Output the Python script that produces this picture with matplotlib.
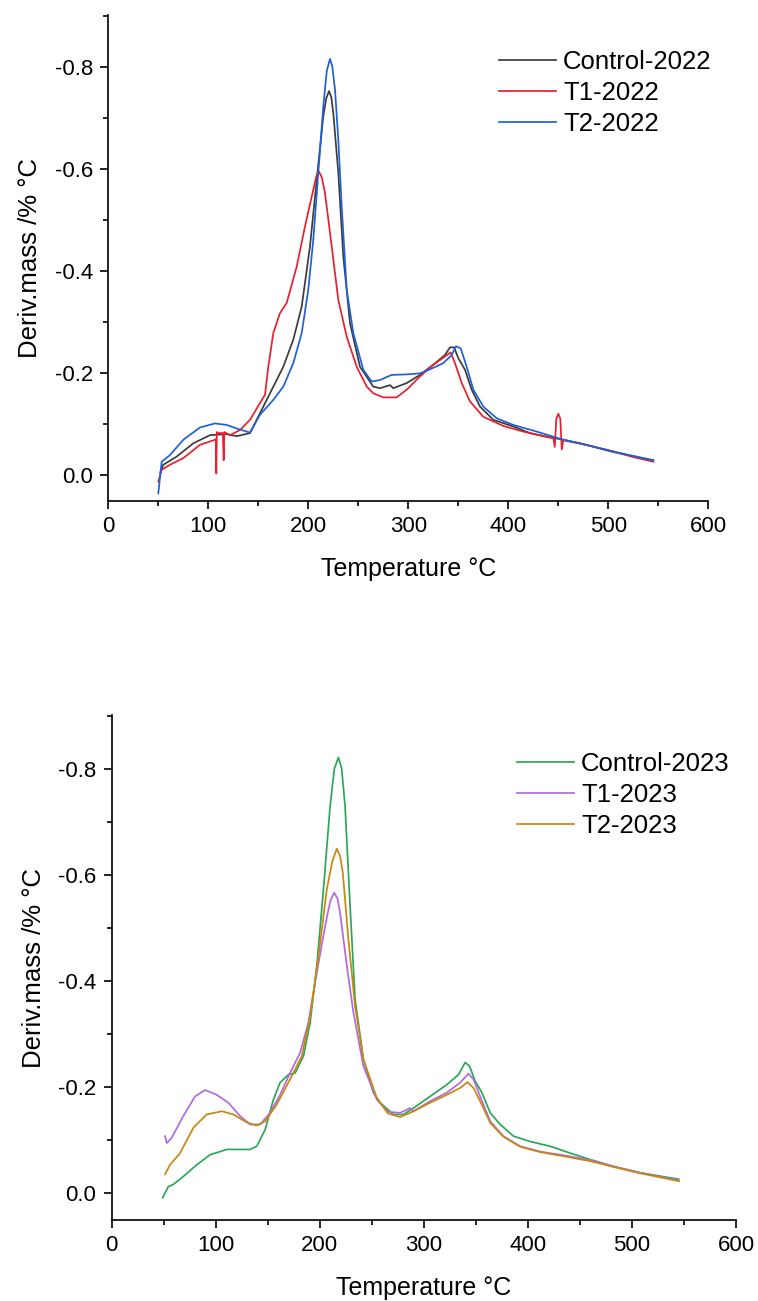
import matplotlib
matplotlib.use("Agg")
import matplotlib.pyplot as plt
from matplotlib.ticker import MultipleLocator

plt.rcParams['font.family'] = ['Liberation Sans', 'DejaVu Sans']
plt.rcParams['axes.unicode_minus'] = False

# ---------------- 2022 data ----------------
ctrl22_T = [52, 55, 68.4, 85, 101.7, 118.4, 128.4, 141.7, 151.7, 161.7, 175, 185, 193.4, 201.7, 208.4,
            215, 218, 220.7, 223, 225, 230, 235, 241.7, 251.7, 265, 271.7, 281.7, 285, 298.4, 311.7, 325,
            336.7, 341.7, 345.7, 350, 356.7, 363.4, 371.7, 385, 405, 421.7, 438.4, 455, 471.7, 505, 545]
ctrl22_v = [-0.005, -0.020, -0.036, -0.062, -0.078, -0.080, -0.076, -0.082, -0.121, -0.160, -0.212, -0.265,
            -0.330, -0.448, -0.578, -0.703, -0.738, -0.752, -0.740, -0.709, -0.592, -0.428, -0.297, -0.212,
            -0.173, -0.170, -0.176, -0.170, -0.180, -0.196, -0.216, -0.235, -0.250, -0.250, -0.229, -0.206,
            -0.167, -0.134, -0.108, -0.095, -0.082, -0.075, -0.069, -0.062, -0.045, -0.029]

t1_22_T = [50, 53.4, 61.7, 75, 91.7, 106.7, 107.5, 108, 108.5, 110, 114.5, 115.4, 116, 121.7, 131.7,
           141.7, 151.7, 156.7, 160, 165, 171.7, 178.4, 188.4, 196.7, 205, 208, 210.7, 213.5, 216.7, 223.4,
           230, 238.4, 248.4, 258.4, 265, 275, 288.4, 298.4, 311.7, 325, 336.7, 342.4, 346.7, 353.4, 361.7,
           375, 395, 415, 435, 445, 446.5, 448, 450, 452, 453.5, 455, 460, 480, 505, 525, 545]
t1_22_v = [0.013, -0.010, -0.020, -0.033, -0.059, -0.069, -0.070, -0.003, -0.084, -0.082, -0.082, -0.029,
           -0.084, -0.078, -0.088, -0.108, -0.141, -0.157, -0.212, -0.278, -0.317, -0.337, -0.408, -0.487,
           -0.559, -0.585, -0.594, -0.583, -0.552, -0.448, -0.343, -0.271, -0.212, -0.173, -0.160, -0.152,
           -0.152, -0.167, -0.193, -0.216, -0.232, -0.240, -0.219, -0.180, -0.144, -0.114, -0.096, -0.085,
           -0.076, -0.072, -0.055, -0.110, -0.120, -0.110, -0.050, -0.068, -0.066, -0.058, -0.046, -0.035,
           -0.026]

t2_22_T = [50, 53.4, 61.7, 75, 91.7, 106.7, 118.4, 130, 141.7, 151.7, 165, 175, 185, 193.4, 200, 205,
           210, 215, 218.5, 221.7, 224, 226.7, 230, 233.4, 238.4, 245, 255, 263.4, 271.7, 283.4, 298.4,
           311.7, 321.7, 335, 343.4, 347.7, 352.4, 358.4, 365, 375, 388.4, 405, 428.4, 455, 471.7, 505, 545]
t2_22_v = [0.036, -0.026, -0.039, -0.069, -0.093, -0.101, -0.098, -0.090, -0.083, -0.118, -0.147, -0.173,
           -0.219, -0.278, -0.363, -0.461, -0.592, -0.722, -0.792, -0.815, -0.800, -0.755, -0.657, -0.526,
           -0.363, -0.278, -0.206, -0.183, -0.186, -0.196, -0.197, -0.199, -0.207, -0.219, -0.235, -0.252,
           -0.248, -0.212, -0.167, -0.134, -0.111, -0.098, -0.085, -0.069, -0.062, -0.046, -0.028]

# ---------------- 2023 data ----------------
ctrl23_T = [49, 54.4, 59.2, 68.8, 81.7, 94.5, 110.6, 133, 139.4, 147.4, 155.4, 161.8, 169.8, 176.3,
            184.3, 190.7, 197.1, 203.5, 209.9, 214, 217.9, 221, 224.3, 229.1, 233.9, 241.9, 251.5, 258,
            270.8, 280.4, 290, 306, 322, 333.3, 339.7, 343.9, 349.3, 355.8, 363.8, 373.4, 386.2, 402.2,
            421.4, 440.7, 459.9, 482.3, 508, 544.8]
ctrl23_v = [0.009, -0.012, -0.016, -0.031, -0.053, -0.072, -0.082, -0.082, -0.088, -0.119, -0.176, -0.208,
            -0.223, -0.226, -0.258, -0.321, -0.428, -0.572, -0.729, -0.800, -0.821, -0.800, -0.729, -0.541,
            -0.365, -0.252, -0.189, -0.170, -0.148, -0.148, -0.160, -0.182, -0.204, -0.223, -0.246, -0.239,
            -0.211, -0.189, -0.151, -0.129, -0.107, -0.097, -0.088, -0.075, -0.063, -0.050, -0.038, -0.026]

t1_23_T = [51.3, 52.9, 57.7, 68.8, 80.1, 89.7, 101, 112.1, 123.4, 133, 142.6, 152.2, 161.8, 171.4, 181,
           189, 197.1, 205.1, 210, 213.8, 217, 219.5, 226, 232.3, 241.9, 254.8, 265.4, 277.2, 286.8, 290,
           306, 322, 334.9, 342.9, 347.7, 354.1, 363.8, 376.5, 392.6, 411.8, 437.5, 459.9, 482.3, 508,
           544.8]
t1_23_v = [-0.107, -0.094, -0.104, -0.145, -0.182, -0.194, -0.185, -0.170, -0.145, -0.129, -0.129, -0.151,
           -0.185, -0.226, -0.264, -0.321, -0.415, -0.503, -0.550, -0.566, -0.555, -0.528, -0.428, -0.340,
           -0.239, -0.176, -0.153, -0.151, -0.160, -0.154, -0.173, -0.189, -0.208, -0.225, -0.214, -0.182,
           -0.135, -0.107, -0.088, -0.078, -0.070, -0.062, -0.050, -0.038, -0.024]

t2_23_T = [51.3, 56, 65.7, 78.5, 91.3, 105.8, 116.9, 129.8, 139.4, 147.4, 158.7, 171.4, 182.7, 190.7,
           198.7, 206.7, 212, 216.3, 219.5, 222.1, 227.5, 233.9, 241.9, 254.8, 265.4, 277.2, 290, 306, 322,
           334.9, 341.9, 347.7, 354.1, 363.8, 376.5, 392.6, 411.8, 437.5, 459.9, 482.3, 508, 545.4]
t2_23_v = [-0.035, -0.053, -0.075, -0.123, -0.148, -0.154, -0.148, -0.133, -0.127, -0.135, -0.167, -0.214,
           -0.258, -0.333, -0.446, -0.572, -0.625, -0.649, -0.635, -0.604, -0.478, -0.352, -0.252, -0.179,
           -0.150, -0.143, -0.154, -0.170, -0.185, -0.198, -0.209, -0.198, -0.173, -0.132, -0.106, -0.087,
           -0.077, -0.068, -0.060, -0.049, -0.037, -0.022]

labels22 = ['Control-2022', 'T1-2022', 'T2-2022']
labels23 = ['Control-2023', 'T1-2023', 'T2-2023']
colors22 = ['#3c3c3c', '#e8202e', '#1f5fd8']
colors23 = ['#2ea65a', '#b06be2', '#c8880e']

W, H = 758, 1301
fig = plt.figure(figsize=(W / 100, H / 100), dpi=100)

ax1 = fig.add_axes([108.3 / W, 1 - 501 / H, 600 / W, 486 / H])
ax2 = fig.add_axes([111.7 / W, 1 - 1220 / H, 624.3 / W, 505 / H])

def style(ax):
    ax.set_xlim(0, 600)
    ax.set_ylim(0.051, -0.901)
    ax.xaxis.set_major_locator(MultipleLocator(100))
    ax.xaxis.set_minor_locator(MultipleLocator(50))
    ax.yaxis.set_minor_locator(MultipleLocator(0.1))
    ax.set_yticks([0.0, -0.2, -0.4, -0.6, -0.8])
    ax.set_yticklabels(['0.0', '-0.2', '-0.4', '-0.6', '-0.8'])
    for s in ['top', 'right']:
        ax.spines[s].set_visible(False)
    for s in ['left', 'bottom']:
        ax.spines[s].set_linewidth(1.2)
    ax.tick_params(which='major', direction='out', length=6, width=1.2, labelsize=16, pad=5)
    ax.tick_params(which='minor', direction='out', length=3.5, width=1.2)
    ax.set_xlabel('Temperature °C', fontsize=18, labelpad=14)
    ax.set_ylabel('Deriv.mass /% °C', fontsize=18.5, labelpad=9)

style(ax1)
style(ax2)

for T, v, c, lab in zip([ctrl22_T, t1_22_T, t2_22_T], [ctrl22_v, t1_22_v, t2_22_v], colors22, labels22):
    ax1.plot(T, v, color=c, lw=1.25, label=lab)
for T, v, c, lab in zip([ctrl23_T, t1_23_T, t2_23_T], [ctrl23_v, t1_23_v, t2_23_v], colors23, labels23):
    ax2.plot(T, v, color=c, lw=1.25, label=lab)

leg_kw = dict(frameon=False, fontsize=18.5, handlelength=2.2, handletextpad=0.3,
              labelspacing=0.27, borderpad=0, borderaxespad=0, loc='upper left')
fig.legend(*ax1.get_legend_handles_labels(), bbox_to_anchor=(499 / W, 1 - 50 / H), **leg_kw)
fig.legend(*ax2.get_legend_handles_labels(), bbox_to_anchor=(517 / W, 1 - 752 / H), **leg_kw)

fig.savefig('out.png', dpi=100)
